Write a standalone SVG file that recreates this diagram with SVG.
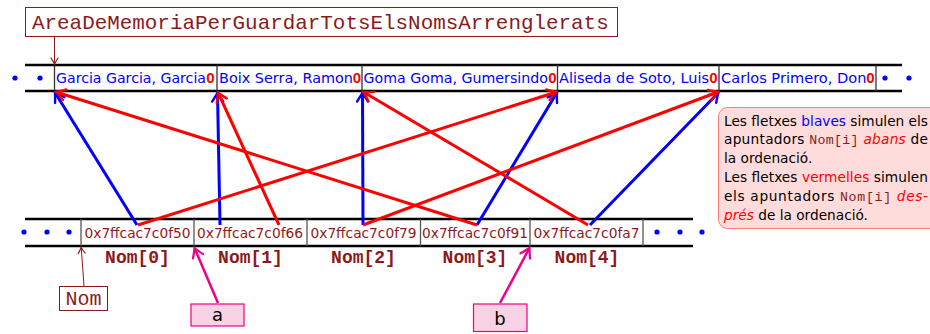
<svg xmlns="http://www.w3.org/2000/svg" width="930" height="334" viewBox="0 0 930 334">
<style>
.name{font-family:"DejaVu Sans",sans-serif;font-size:14px;fill:#0000ff}
.zero{font-family:"Liberation Sans",sans-serif;font-weight:bold;font-size:15px;fill:#ff0000;text-anchor:middle}
.addr{font-family:"DejaVu Sans",sans-serif;font-size:13.7px;fill:#8b1a1a;text-anchor:middle}
.lbl{font-family:"Liberation Mono",monospace;font-weight:bold;font-size:18px;fill:#8b1a1a;text-anchor:middle}
.mono{font-family:"Liberation Mono",monospace;fill:#8b1a1a}
.note{font-family:"DejaVu Sans",sans-serif;font-size:13.7px;fill:#000}
.thick{stroke:#000;stroke-width:2.5}
.sepT{stroke:#333;stroke-width:1.3}
.sepB{stroke:#555;stroke-width:1.3}
.dot{fill:#0000ff}
.blue{stroke:#0000ff;stroke-width:3;fill:none}
.red{stroke:#ff0000;stroke-width:3;fill:none}
.mag{stroke:#ec008c;stroke-width:2.5;fill:none}
.dr{stroke:#8b1a1a;stroke-width:1;fill:none}
.tag{fill:#f9d3e4;stroke:#ec008c;stroke-width:1.2}
.tagt{font-family:"DejaVu Sans",sans-serif;font-size:18px;fill:#000;text-anchor:middle}
</style>
<defs>
<marker id="mb" viewBox="-11 -7 13 14" refX="0" refY="0" markerWidth="13" markerHeight="14" markerUnits="userSpaceOnUse" orient="auto">
<path d="M-9,-5.5 Q-3,-1.5 0,0 Q-3,1.5 -9,5.5" fill="none" stroke="#0000ff" stroke-width="2.4" stroke-linecap="round"/>
</marker>
<marker id="mr" viewBox="-11 -7 13 14" refX="0" refY="0" markerWidth="13" markerHeight="14" markerUnits="userSpaceOnUse" orient="auto">
<path d="M-9,-5.5 Q-3,-1.5 0,0 Q-3,1.5 -9,5.5" fill="none" stroke="#ff0000" stroke-width="2.4" stroke-linecap="round"/>
</marker>
<marker id="mm" viewBox="-11 -7 13 14" refX="0" refY="0" markerWidth="13" markerHeight="14" markerUnits="userSpaceOnUse" orient="auto">
<path d="M-9,-5.5 Q-3,-1.5 0,0 Q-3,1.5 -9,5.5" fill="none" stroke="#ec008c" stroke-width="2.2" stroke-linecap="round"/>
</marker>
<marker id="md" viewBox="-8 -5 10 10" refX="0" refY="0" markerWidth="10" markerHeight="10" markerUnits="userSpaceOnUse" orient="auto">
<path d="M-6,-3.5 Q-2,-1 0,0 Q-2,1 -6,3.5" fill="none" stroke="#8b1a1a" stroke-width="1.2" stroke-linecap="round"/>
</marker>
</defs>
<rect width="930" height="334" fill="#fff"/>

<g id="title">
<rect x="25.5" y="7.5" width="592" height="29" fill="#fff" stroke="#8b1a1a" stroke-width="1"/>
<text x="32" y="29" class="mono" font-size="20.9">AreaDeMemoriaPerGuardarTotsElsNomsArrenglerats</text>
</g>

<g id="top-row">
<line x1="25" y1="65" x2="902" y2="65" class="thick"/>
<line x1="25" y1="91" x2="902" y2="91" class="thick"/>
<circle cx="15" cy="78" r="2.6" class="dot"/>
<circle cx="40" cy="78" r="2.6" class="dot"/>
<circle cx="885" cy="78" r="2.6" class="dot"/>
<circle cx="909" cy="78" r="2.6" class="dot"/>
<circle cx="933" cy="78" r="2.6" class="dot"/>
<line x1="54.5" y1="65" x2="54.5" y2="91" class="sepT"/>
<line x1="217" y1="65" x2="217" y2="91" class="sepT"/>
<line x1="362" y1="65" x2="362" y2="91" class="sepT"/>
<line x1="557.5" y1="65" x2="557.5" y2="91" class="sepT"/>
<line x1="719" y1="65" x2="719" y2="91" class="sepT"/>
<line x1="876" y1="65" x2="876" y2="91" class="sepT"/>
</g>
<g id="name0"><text x="56" y="83" class="name" textLength="150" lengthAdjust="spacingAndGlyphs">Garcia Garcia, Garcia</text><text x="210.5" y="83" class="zero">0</text></g>
<g id="name1"><text x="219" y="83" class="name" textLength="134" lengthAdjust="spacingAndGlyphs">Boix Serra, Ramon</text><text x="357" y="83" class="zero">0</text></g>
<g id="name2"><text x="363.5" y="83" class="name" textLength="184.5" lengthAdjust="spacingAndGlyphs">Goma Goma, Gumersindo</text><text x="552.5" y="83" class="zero">0</text></g>
<g id="name3"><text x="559" y="83" class="name" textLength="150" lengthAdjust="spacingAndGlyphs">Aliseda de Soto, Luis</text><text x="713.5" y="83" class="zero">0</text></g>
<g id="name4"><text x="721" y="83" class="name" textLength="145.5" lengthAdjust="spacingAndGlyphs">Carlos Primero, Don</text><text x="870.5" y="83" class="zero">0</text></g>

<g id="bottom-row">
<line x1="25" y1="219" x2="693" y2="219" class="thick"/>
<line x1="25" y1="246" x2="693" y2="246" class="thick"/>
<circle cx="24" cy="232" r="2.6" class="dot"/>
<circle cx="47" cy="232" r="2.6" class="dot"/>
<circle cx="69" cy="232" r="2.6" class="dot"/>
<circle cx="657" cy="232" r="2.6" class="dot"/>
<circle cx="680" cy="232" r="2.6" class="dot"/>
<circle cx="702" cy="232" r="2.6" class="dot"/>
<line x1="81" y1="219" x2="81" y2="246" class="sepB"/>
<line x1="194" y1="219" x2="194" y2="246" class="sepB"/>
<line x1="307" y1="219" x2="307" y2="246" class="sepB"/>
<line x1="420.5" y1="219" x2="420.5" y2="246" class="sepB"/>
<line x1="530" y1="219" x2="530" y2="246" class="sepB"/>
<line x1="643" y1="219" x2="643" y2="246" class="sepB"/>
</g>
<g id="nom0"><text x="137.5" y="237.5" class="addr" textLength="106" lengthAdjust="spacingAndGlyphs">0x7ffcac7c0f50</text><text x="137.5" y="263" class="lbl">Nom[0]</text></g>
<g id="nom1"><text x="250" y="237.5" class="addr" textLength="106" lengthAdjust="spacingAndGlyphs">0x7ffcac7c0f66</text><text x="250.5" y="263" class="lbl">Nom[1]</text></g>
<g id="nom2"><text x="363.5" y="237.5" class="addr" textLength="106" lengthAdjust="spacingAndGlyphs">0x7ffcac7c0f79</text><text x="363.5" y="263" class="lbl">Nom[2]</text></g>
<g id="nom3"><text x="475" y="237.5" class="addr" textLength="106" lengthAdjust="spacingAndGlyphs">0x7ffcac7c0f91</text><text x="475" y="263" class="lbl">Nom[3]</text></g>
<g id="nom4"><text x="586.5" y="237.5" class="addr" textLength="106" lengthAdjust="spacingAndGlyphs">0x7ffcac7c0fa7</text><text x="587" y="263" class="lbl">Nom[4]</text></g>

<g id="nom-box">
<rect x="59.5" y="286.5" width="48" height="24" fill="#fff" stroke="#8b1a1a" stroke-width="1"/>
<text x="83.5" y="305" class="mono" font-size="20" text-anchor="middle">Nom</text>
</g>
<g id="tag-a">
<rect x="191" y="304" width="53" height="22" class="tag"/>
<text x="217.5" y="321" class="tagt">a</text>
</g>
<g id="tag-b">
<rect x="473.5" y="304" width="53.5" height="27.5" class="tag"/>
<text x="500" y="325" class="tagt">b</text>
</g>

<g id="note">
<rect x="718.5" y="107.5" width="230" height="121" rx="9" fill="#ffdcdc" stroke="#ff7f7f" stroke-width="1"/>
<text x="724" y="125.5" class="note" textLength="204" lengthAdjust="spacing">Les fletxes <tspan fill="#0000ff">blaves</tspan> simulen els</text>
<text x="724" y="144.3" class="note" textLength="204" lengthAdjust="spacing">apuntadors <tspan class="mono" font-size="13.3">Nom[i]</tspan> <tspan fill="#ff0000" font-style="italic">abans</tspan> de</text>
<text x="724" y="163.1" class="note">la ordenació.</text>
<text x="724" y="181.9" class="note" textLength="204" lengthAdjust="spacing">Les fletxes <tspan fill="#ff0000">vermelles</tspan> simulen</text>
<text x="724" y="200.7" class="note" textLength="204" lengthAdjust="spacing">els apuntadors <tspan class="mono" font-size="13.3">Nom[i]</tspan> <tspan fill="#ff0000" font-style="italic">des-</tspan></text>
<text x="724" y="219.5" class="note"><tspan fill="#ff0000" font-style="italic">prés</tspan> de la ordenació.</text>
</g>

<g id="connectors">
<line x1="54.5" y1="37" x2="54.5" y2="64" class="dr" marker-end="url(#md)"/>
<line x1="84" y1="286" x2="81.2" y2="247.5" class="dr" marker-end="url(#md)"/>
<line x1="218" y1="303" x2="194.5" y2="248" class="mag" marker-end="url(#mm)"/>
<line x1="500" y1="303" x2="529.5" y2="248" class="mag" marker-end="url(#mm)"/>
<line x1="137" y1="225" x2="55" y2="92.5" class="blue" marker-end="url(#mb)"/>
<line x1="220" y1="225" x2="217.5" y2="92.5" class="blue" marker-end="url(#mb)"/>
<line x1="363" y1="225" x2="362.5" y2="92.5" class="blue" marker-end="url(#mb)"/>
<line x1="477" y1="225" x2="557" y2="92.5" class="blue" marker-end="url(#mb)"/>
<line x1="590" y1="225" x2="718.5" y2="92.5" class="blue" marker-end="url(#mb)"/>
<line x1="138" y1="225" x2="556.5" y2="92" class="red" marker-end="url(#mr)"/>
<line x1="279" y1="225" x2="218" y2="92.5" class="red" marker-end="url(#mr)"/>
<line x1="363" y1="225" x2="718" y2="92" class="red" marker-end="url(#mr)"/>
<line x1="477" y1="225" x2="56" y2="92" class="red" marker-end="url(#mr)"/>
<line x1="588" y1="225" x2="363.5" y2="92" class="red" marker-end="url(#mr)"/>
</g>
</svg>
